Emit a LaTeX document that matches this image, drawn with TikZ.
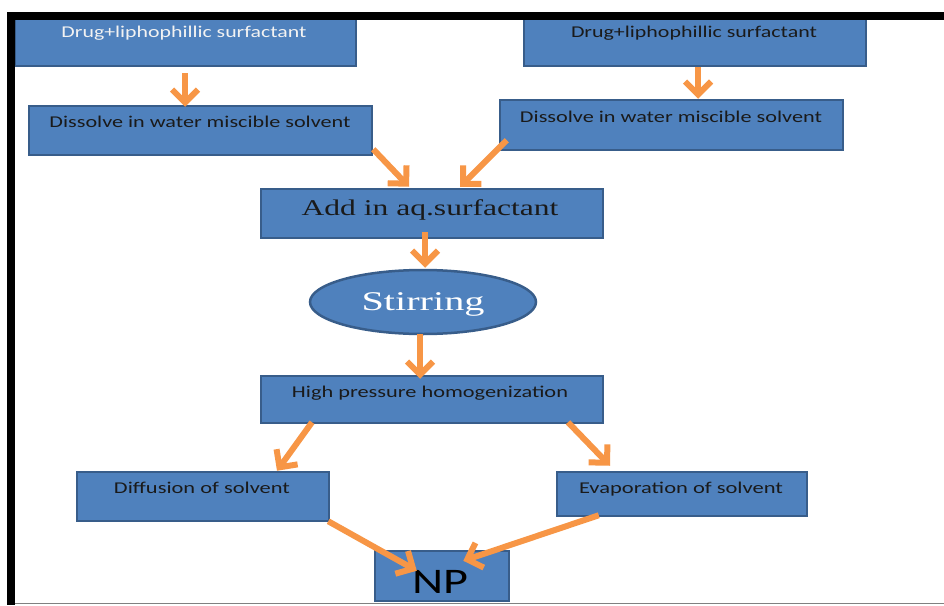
\documentclass[tikz,border=0pt]{standalone}
\usepackage{fontspec}
\usepackage{graphicx}
\usetikzlibrary{arrows.meta,shapes.geometric,calc}
\newfontfamily\calfont{Carlito}
\newfontfamily\romfont{Liberation Serif}
\definecolor{boxblue}{HTML}{4F81BD}
\definecolor{boxedge}{HTML}{385D8A}
\definecolor{flowor}{HTML}{F79646}
\definecolor{inkdark}{HTML}{1A1A1A}
% stretch a label to a given width, keeping its natural height
\newcommand\fitto[2]{\resizebox{#1}{\height}{#2}}
\begin{document}
\begin{tikzpicture}[x=1pt,y=-1pt,
  stepbox/.style={rectangle,fill=boxblue,draw=boxedge,line width=2.5pt,inner sep=0pt},
  steplabel/.style={anchor=base,inner sep=0pt,text=inkdark,font=\calfont\fontsize{16.5}{18}\selectfont},
  flow/.style={draw=flowor,line width=6pt,-{Straight Barb[length=13pt,width=26pt]}}]
\useasboundingbox (0,0) rectangle (944,605);
\fill[white] (0,0) rectangle (944,605);

% process boxes
\node[stepbox,minimum width=341pt,minimum height=50pt] (b1) at (185.5,41) {};
\node[stepbox,minimum width=342pt,minimum height=50pt] (b2) at (695,41) {};
\node[stepbox,minimum width=343pt,minimum height=49pt] (d1) at (200.5,130.5) {};
\node[stepbox,minimum width=343pt,minimum height=50pt] (d2) at (671.5,125) {};
\node[stepbox,minimum width=342pt,minimum height=49pt] (add) at (432,213.5) {};
\node[stepbox,ellipse,minimum width=226pt,minimum height=64pt] (stir) at (423,302) {};
\node[stepbox,minimum width=342pt,minimum height=47pt] (hph) at (432,399.5) {};
\node[stepbox,minimum width=252pt,minimum height=49pt] (diff) at (203,496.5) {};
\node[stepbox,minimum width=250pt,minimum height=44pt] (evap) at (682,494) {};
\node[stepbox,minimum width=134pt,minimum height=50pt] (np) at (442,576) {};

% labels
\node[steplabel,text=white!95!black] (t1) at (184,37) {\fitto{245pt}{Drug+liphophillic surfactant}};
\node[steplabel] (t2) at (694,37) {\fitto{246pt}{Drug+liphophillic surfactant}};
\node[steplabel] (t3) at (200,127) {\fitto{301pt}{Dissolve in water miscible solvent}};
\node[steplabel] (t4) at (671,122) {\fitto{302pt}{Dissolve in water miscible solvent}};
\node[steplabel,font=\romfont\fontsize{22.5}{24}\selectfont] (t5) at (430,215) {\fitto{257pt}{Add in aq.surfactant}};
\node[steplabel,text=white,font=\romfont\fontsize{27}{29}\selectfont] (t6) at (423,310) {\fitto{123pt}{Stirring}};
\node[steplabel] (t7) at (430,397) {\fitto{276pt}{High pressure homogenization}};
\node[steplabel] (t8) at (202,493) {\fitto{176pt}{Diffusion of solvent}};
\node[steplabel] (t9) at (681,493) {\fitto{204pt}{Evaporation of solvent}};
\node[steplabel,text=black,font=\calfont\fontsize{36}{38}\selectfont] (t10) at (440,593) {\fitto{56pt}{NP}};

% connectors
\draw[flow] ($(b1.south)+(-0.5,6)$) -- ($(d1.north)+(-15.5,2)$);
\draw[flow] ($(b2.south)+(3,0)$) -- ($(d2.north)+(26.5,0)$);
\draw[flow] ($(d1.south east)+(0,-7)$) -- ($(add.north)+(-23,-1)$);
\draw[flow] ($(d2.south west)+(8,-11)$) -- ($(add.north)+(28,-1)$);
\draw[flow] ($(add.south)+(-7,-7)$) -- ($(stir.north)+(2,-1)$);
\draw[flow] ($(stir.south)+(-3,-1)$) -- ($(hph.north)+(-12,4)$);
\draw[flow] ($(hph.south)+(-120,-2)$) -- ($(diff.north)+(74,0)$);
\draw[flow] ($(hph.south)+(136,-2)$) -- ($(evap.north)+(-72,-5)$);
\draw[flow] ($(diff.south east)+(-2,-1)$) -- ($(np.north west)+(43,21)$);
\draw[flow] ($(evap.south west)+(43,-2)$) -- ($(np.north east)+(-47,11)$);

% page frame
\fill[black] (7,12) rectangle (944,20);
\fill[black] (7,12) rectangle (15,605);
\draw[gray,line width=1.2pt] (15,603.5) -- (944,603.5);
\end{tikzpicture}
\end{document}
